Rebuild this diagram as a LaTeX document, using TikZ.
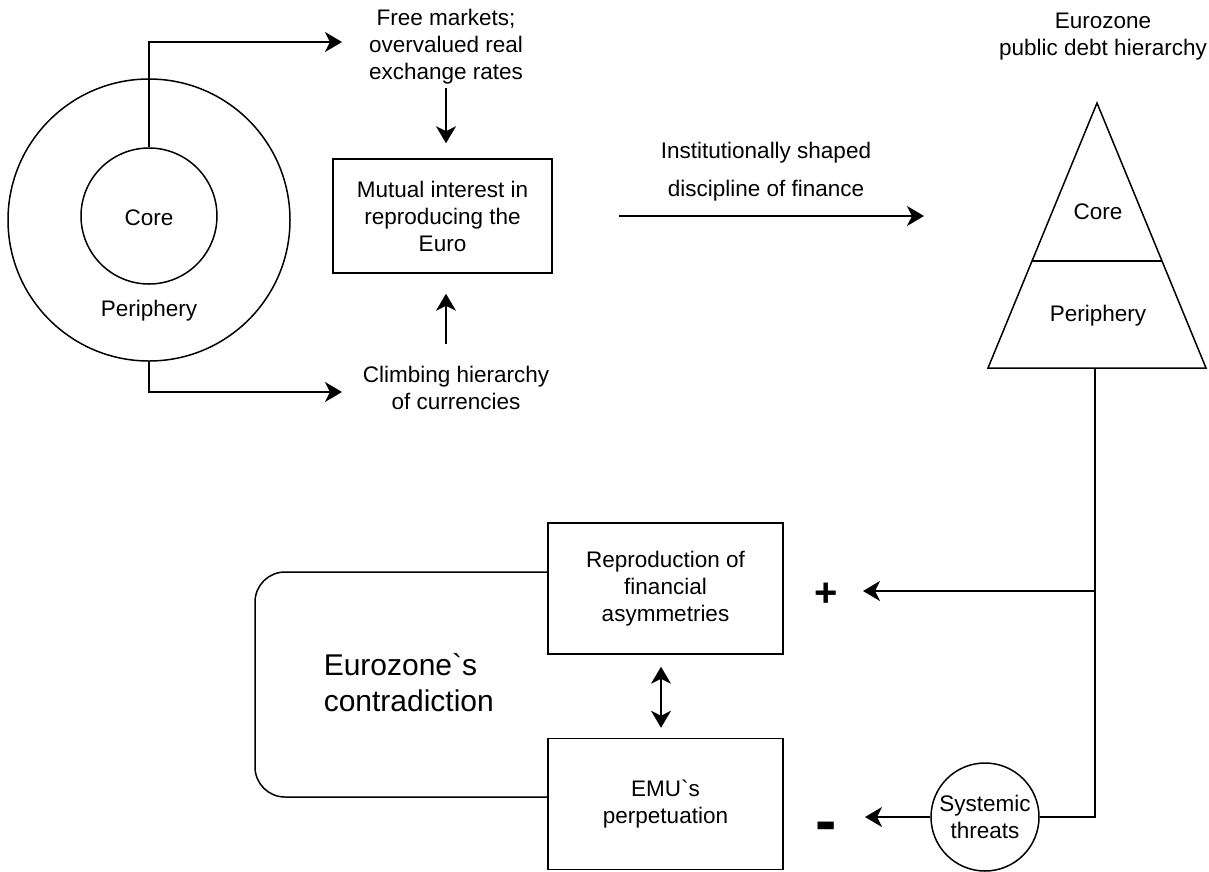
\documentclass[tikz,border=0pt]{standalone}
\usepackage{fontspec}
\setmainfont{Liberation Sans}[Ligatures=TeXOff]
\usetikzlibrary{arrows.meta, calc}
\tikzset{
    txt/.style={align=center, inner sep=0pt, font=\fontsize{22.5}{27}\selectfont},
    bigtxt/.style={align=left, inner sep=0pt, font=\fontsize{30}{36}\selectfont},
    sign/.style={inner sep=0pt, font=\fontsize{#1}{#1}\selectfont\bfseries},
    box/.style={draw, txt, minimum width=235pt, minimum height=131pt},
    arr/.style={-{Stealth[length=17pt, width=20pt, inset=5pt]}},
    darr/.style={{Stealth[length=17pt, width=20pt, inset=5pt]}-{Stealth[length=17pt, width=20pt, inset=5pt]}},
}

\begin{document}
\begin{tikzpicture}[x=1pt, y=-1pt, line width=1.5pt]
\useasboundingbox (0,0) rectangle (1209,871);

\node[draw, circle, minimum size=282pt, inner sep=0pt] (outer) at (149,220) {};
\node[draw, circle, minimum size=136pt, inner sep=0pt] (inner) at (149,216) {};
\node[txt] (corel) at (149,218) {Core};
\node[txt] (perl) at (149,311) {Periphery};

\node[txt] (free) at (446,47) {Free markets;\\overvalued real\\exchange rates};
\node[draw, txt, minimum width=219pt, minimum height=114pt] (mutual) at (442.5,216) {Mutual interest in\\reproducing the\\Euro};
\node[txt] (climb) at (456,388) {Climbing hierarchy\\of currencies};
\coordinate (freein) at (342,42);
\coordinate (climbin) at (342,392);

\draw[arr] (inner.north) |- (freein);
\draw[arr] (outer.south) |- (climbin);
\draw[arr, shorten <=3pt] (free.south) -- ++(0,58);
\draw[arr, shorten >=20pt] (free.south |- climb.north) ++(0,-21) -- (free.south |- mutual.south);

\coordinate (discin) at (924,216);
\draw[arr, shorten <=66pt] (mutual.east) -- (discin);
\node[txt, font=\fontsize{22.5}{38}\selectfont] (disc) at (766,172) {Institutionally shaped\\discipline of finance};

\coordinate (apex) at (1097,103);
\coordinate (bl) at (988,368);
\coordinate (br) at (1206,368);
\coordinate (tribase) at (1095,368);
\draw[line join=miter] (apex) -- (br) -- (bl) -- cycle;
\draw ($(apex)!0.596!(bl)$) -- ($(apex)!0.596!(br)$);
\node[txt] (eurol) at (1103,37) {Eurozone\\public debt hierarchy};
\node[txt] (tcore) at (1098,212) {Core};
\node[txt] (tper) at (1098,316) {Periphery};

\node[box] (repro) at (665.5,588.5) {Reproduction of\\financial\\asymmetries};
\node[box] (emu) at (665.5,804) {EMU`s\\perpetuation};
\draw[darr, shorten <=12pt, shorten >=10pt] ([xshift=-4.5pt]repro.south) -- ([xshift=-4.5pt]emu.north);

\coordinate (loopx) at (255,700);
\draw[rounded corners=30pt] ([yshift=16.5pt]repro.west) -| (loopx) |- ([yshift=7pt]emu.west);
\node[bigtxt, anchor=west] (contr) at (323,683) {Eurozone`s\\contradiction};

\node[draw, circle, minimum size=108pt, inner sep=0pt, txt] (threat) at (985,817) {Systemic\\threats};
\coordinate (plusin) at (863,591);
\coordinate (minusin) at (865,817);
\draw (tribase) -- (tribase |- threat.east) -- (threat.east);
\draw[arr] (tribase |- plusin) -- (plusin);
\draw[arr] (threat.west) -- (minusin);
\node[sign=40] (plus) at (826,595) {+};
\node[sign=64, anchor=base] (minus) at (826,842) {-};
\end{tikzpicture}
\end{document}
